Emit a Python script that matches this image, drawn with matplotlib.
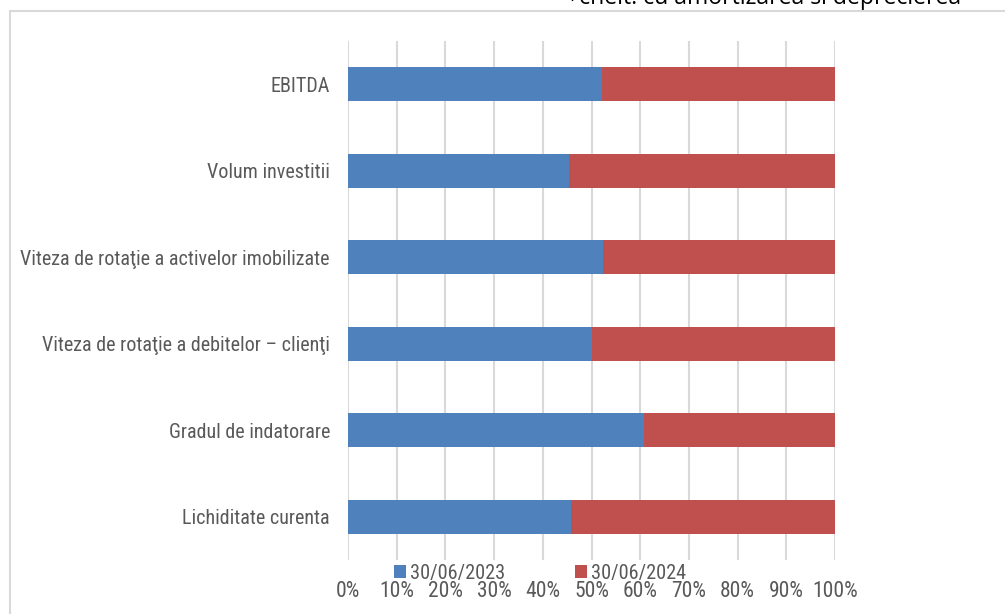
import matplotlib
matplotlib.use("Agg")
import matplotlib.pyplot as plt
from matplotlib import font_manager
from matplotlib.patches import Rectangle

installed = {f.name for f in font_manager.fontManager.ttflist}
narrow = None
for name in ['Roboto Condensed', 'Liberation Sans Narrow', 'Open Sans Condensed']:
    if name in installed:
        narrow = name
        break
if narrow:
    plt.rcParams['font.family'] = [narrow, 'DejaVu Sans']
    cat_size, tick_size, leg_size = 14.5, 15.5, 14.6
else:
    plt.rcParams['font.family'] = ['Liberation Sans', 'DejaVu Sans']
    cat_size, tick_size, leg_size = 12.8, 13, 13

categories = ["Lichiditate curenta",
              "Gradul de indatorare",
              "Viteza de rotaţie a debitelor – clienţi",
              "Viteza de rotaţie a activelor imobilizate",
              "Volum investitii",
              "EBITDA"]
share_2023 = [45.8, 60.8, 50.0, 52.4, 45.4, 52.1]
share_2024 = [100 - v for v in share_2023]
series_labels = ["30/06/2023", "30/06/2024"]
xticks = [0, 10, 20, 30, 40, 50, 60, 70, 80, 90, 100]

blue = '#4F81BD'
red = '#C0504D'
grey = '#595959'

fig = plt.figure(figsize=(10.05, 6.14), dpi=100)
ax = fig.add_axes([348 / 1005, 1 - 560 / 614, 487 / 1005, 519 / 614])

y = range(len(categories))
ax.barh(y, share_2023, height=0.39, color=blue, label=series_labels[0], zorder=3)
ax.barh(y, share_2024, left=share_2023, height=0.39, color=red,
        label=series_labels[1], zorder=3)

ax.set_xlim(0, 100)
ax.set_ylim(-0.5, len(categories) - 0.5)
ax.set_xticks(xticks)
ax.set_xticklabels([f"{t}%" for t in xticks])
ax.set_yticks(list(y))
ax.set_yticklabels(categories)
ax.tick_params(axis='x', length=0, pad=15, labelsize=tick_size, labelcolor=grey)
ax.tick_params(axis='y', length=0, pad=13, labelsize=cat_size, labelcolor=grey)
ax.grid(axis='x', color='#d9d9d9', lw=1.5, zorder=0)
for s in ax.spines.values():
    s.set_visible(False)

fig.legend(loc='center', bbox_to_anchor=(540 / 1005, 1 - 573 / 614), ncol=2,
           frameon=False, fontsize=leg_size, handlelength=0.6,
           handleheight=0.6, handletextpad=0.2, columnspacing=3.4,
           labelcolor=grey)

# chart border and cut-off note from the page above
fig.patches.append(Rectangle((10 / 1005, -0.05), 1.1, 1 - 11 / 614 + 0.05,
                             transform=fig.transFigure, fill=False,
                             edgecolor='#d9d9d9', lw=1.5))
fig.text(566 / 1005, 1 - 4.5 / 614, "+chelt. cu amortizarea si deprecierea",
         family='Open Sans', fontsize=16.6, color='black', va='baseline')

fig.savefig("out.png", dpi=100)
